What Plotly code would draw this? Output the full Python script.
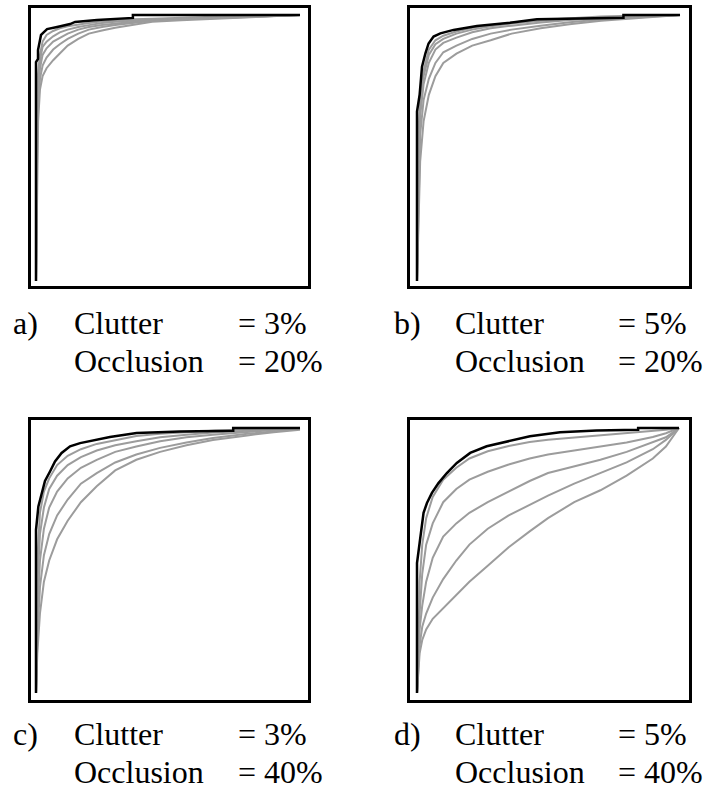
import plotly.graph_objects as go

W, H = 709, 790

# ---------------- data (normalised false-alarm rate / detection rate) ----------------
# Panel a) clutter 3%, occlusion 20%
a_black_x = [0, 0, .0076, .0076, .019, .042, .08, .129, .148, .231, .367, .367, 1]
a_black_y = [0, .823, .835, .868, .925, .947, .955, .966, .974, .981, .989, 1, 1]
a_gray_x = [0, .003, .008, .015, .025, .04, .065, .09, .12, .16, .2, .25, .3, .37, .44, .55, .7, .85, 1]
a_gray1 = [0, .6, .78, .85, .9, .925, .94, .95, .958, .965, .97, .976, .98, .984, .986, .99, .994, .997, 1]
a_gray2 = [0, .55, .74, .83, .88, .9, .92, .935, .945, .955, .962, .97, .975, .98, .983, .986, .991, .995, 1]
a_gray3 = [0, .5, .7, .8, .85, .875, .9, .915, .93, .945, .955, .962, .968, .975, .98, .985, .989, .994, 1]
a_gray4 = [0, .4, .65, .76, .81, .84, .87, .89, .91, .93, .945, .955, .962, .97, .978, .984, .99, .994, 1]
a_gray5 = [0, .3, .6, .72, .77, .8, .83, .855, .885, .91, .93, .942, .952, .963, .975, .98, .986, .992, 1]

# Panel b) clutter 5%, occlusion 20%
b_black_x = [0, 0, .01, .019, .032, .044, .063, .089, .139, .228, .354, .456, .785, .785, 1]
b_black_y = [0, .637, .70, .806, .856, .893, .919, .931, .944, .959, .971, .984, .99, 1, 1]
b_gray_x = [0, .005, .012, .025, .045, .07, .1, .15, .21, .28, .36, .47, .58, .7, .85, 1]
b_gray1 = [0, .55, .68, .79, .87, .905, .922, .938, .952, .962, .972, .981, .988, .994, .998, 1]
b_gray2 = [0, .5, .66, .77, .85, .89, .91, .93, .945, .958, .968, .978, .985, .991, .996, 1]
b_gray3 = [0, .4, .62, .74, .82, .87, .895, .915, .935, .95, .96, .972, .981, .988, .994, 1]
b_gray4 = [0, .3, .55, .68, .76, .82, .86, .885, .91, .93, .945, .96, .973, .983, .992, 1]
b_gray5 = [0, .2, .45, .6, .7, .77, .82, .855, .885, .905, .93, .95, .965, .978, .99, 1]

# Panel c) clutter 3%, occlusion 40%
c_black_x = [0, 0, .009, .021, .034, .053, .072, .097, .129, .167, .217, .28, .381, .545, .747, .747, 1]
c_black_y = [0, .616, .704, .755, .80, .836, .874, .906, .931, .943, .953, .966, .981, .987, .99, 1, 1]
c_gray_x = [0, .005, .015, .03, .05, .08, .12, .17, .23, .3, .38, .47, .57, .67, .8, .9, 1]
c_gray1 = [0, .5, .68, .76, .81, .86, .895, .92, .94, .955, .97, .978, .985, .99, .995, .998, 1]
c_gray2 = [0, .4, .6, .7, .77, .82, .86, .89, .915, .935, .95, .965, .975, .983, .99, .995, 1]
c_gray3 = [0, .3, .5, .62, .7, .76, .81, .85, .88, .91, .93, .95, .965, .975, .985, .992, 1]
c_gray4 = [0, .2, .4, .52, .6, .67, .73, .79, .83, .87, .9, .925, .945, .962, .978, .988, .997]
c_gray5 = [0, .15, .3, .42, .5, .58, .65, .72, .78, .84, .88, .91, .935, .955, .972, .984, .993]

# Panel d) clutter 5%, occlusion 40%
d_black_x = [0, 0, .01, .019, .025, .038, .057, .082, .114, .152, .203, .266, .343, .431, .546, .685, .844, .844, 1]
d_black_y = [0, .49, .566, .64, .68, .717, .755, .792, .83, .868, .906, .931, .95, .969, .984, .991, .993, 1, 1]
d_gray_x = [0, .005, .01, .02, .035, .06, .1, .15, .2, .27, .35, .43, .5, .6, .7, .8, .9, .95, 1]
d_gray1 = [0, .12, .42, .56, .66, .74, .805, .85, .885, .912, .932, .947, .956, .964, .972, .98, .988, .993, 1]
d_gray2 = [0, .12, .3, .45, .56, .64, .72, .77, .805, .835, .862, .885, .9, .915, .93, .945, .966, .98, 1]
d_gray3 = [0, .12, .24, .33, .42, .51, .59, .64, .68, .72, .76, .80, .83, .855, .88, .91, .947, .965, 1]
d_gray4 = [0, .1, .18, .25, .3, .36, .43, .5, .56, .62, .67, .71, .745, .79, .83, .87, .92, .955, 1]
d_gray5 = [0, .1, .15, .2, .24, .28, .32, .37, .42, .48, .55, .61, .66, .72, .765, .82, .885, .93, 1]

panel_letters = ["a)", "b)", "c)", "d)"]
clutter_labels = ["= 3%", "= 5%", "= 3%", "= 5%"]
occlusion_labels = ["= 20%", "= 20%", "= 40%", "= 40%"]

# ---------------- layout geometry (pixels) ----------------
# box outer edges (left, top, right, bottom) and data frame (x0, x1, y0, y1)
boxes = [(28, 5, 311, 289), (407, 5, 692, 289), (28, 417, 311, 703), (407, 417, 692, 703)]
frames = [(36, 300, 281, 15), (417, 680, 281, 15), (36, 300, 693, 428), (417, 679, 693, 428)]
label_x = [(12, 73, 237), (393, 454, 617), (12, 73, 237), (393, 454, 617)]
label_y = [(323, 361), (323, 361), (734, 772), (734, 772)]
LW = 3

blacks = [(a_black_x, a_black_y), (b_black_x, b_black_y), (c_black_x, c_black_y), (d_black_x, d_black_y)]
grays = [
    (a_gray_x, [a_gray1, a_gray2, a_gray3, a_gray4, a_gray5]),
    (b_gray_x, [b_gray1, b_gray2, b_gray3, b_gray4, b_gray5]),
    (c_gray_x, [c_gray1, c_gray2, c_gray3, c_gray4, c_gray5]),
    (d_gray_x, [d_gray1, d_gray2, d_gray3, d_gray4, d_gray5]),
]

fig = go.Figure()
layout = dict(width=W, height=H, margin=dict(l=0, r=0, t=0, b=0, pad=0),
              paper_bgcolor="white", plot_bgcolor="white", showlegend=False,
              annotations=[])

for i in range(4):
    n = "" if i == 0 else str(i + 1)
    L, T, R, B = boxes[i]
    il, it, ir, ib = L + LW, T + LW, R - LW, B - LW
    x0, x1, y0, y1 = frames[i]
    xr = [(il - x0) / (x1 - x0), (ir - x0) / (x1 - x0)]
    yr = [(y0 - ib) / (y0 - y1), (y0 - it) / (y0 - y1)]
    axcommon = dict(showline=True, mirror=True, linecolor="black", linewidth=LW,
                    showgrid=False, zeroline=False, showticklabels=False, ticks="",
                    fixedrange=True)
    layout["xaxis" + n] = dict(domain=[il / W, ir / W], range=xr, anchor="y" + n, **axcommon)
    layout["yaxis" + n] = dict(domain=[1 - ib / H, 1 - it / H], range=yr, anchor="x" + n, **axcommon)

    gx, gys = grays[i]
    for gy in gys:
        fig.add_trace(go.Scatter(x=gx, y=gy, mode="lines", xaxis="x" + n, yaxis="y" + n,
                                 line=dict(color="#9c9c9c", width=2), hoverinfo="skip"))
    bx, by = blacks[i]
    fig.add_trace(go.Scatter(x=bx, y=by, mode="lines", xaxis="x" + n, yaxis="y" + n,
                             line=dict(color="black", width=2.5), hoverinfo="skip"))

    font = dict(family="Liberation Serif, DejaVu Serif, serif", size=32, color="black")
    lx = label_x[i]
    ly = label_y[i]
    items = [(lx[0], ly[0], panel_letters[i]), (lx[1], ly[0], "Clutter"), (lx[2], ly[0], clutter_labels[i]),
             (lx[1], ly[1], "Occlusion"), (lx[2], ly[1], occlusion_labels[i])]
    for (px, py, t) in items:
        layout["annotations"].append(dict(text=t, x=px / W, y=1 - py / H, xref="paper", yref="paper",
                                          xanchor="left", yanchor="middle", showarrow=False,
                                          font=font, borderpad=0))

fig.update_layout(**layout)
fig.write_html("out.html", config={"displayModeBar": False},
               post_script="document.body.style.margin='0';document.body.style.padding='0';")
